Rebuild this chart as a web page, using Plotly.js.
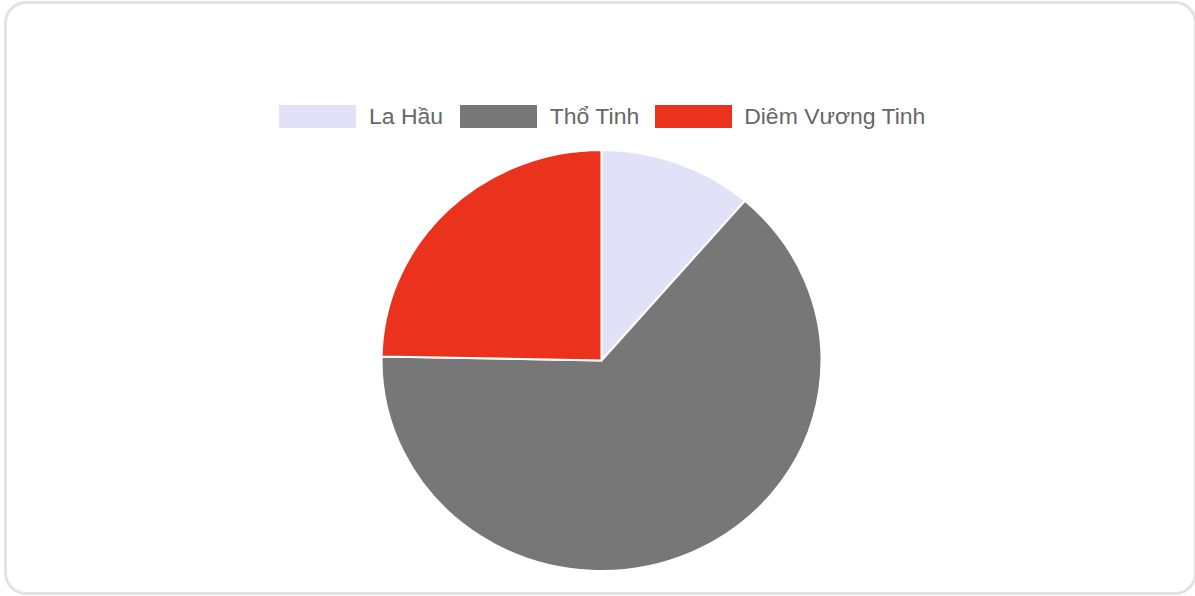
<!DOCTYPE html>
<html>
<head>
<meta charset="utf-8">
<script src="https://cdn.plot.ly/plotly-3.0.1.min.js"></script>
<style>
  html, body { margin:0; padding:0; background:#ffffff; width:1195px; height:596px; overflow:hidden; }
  #card { position:absolute; left:4px; top:1px; width:1193px; height:594px; border:3px solid #e2e2e2; border-radius:22px; box-sizing:border-box; background:#fff; }
  #chart { position:absolute; left:0; top:0; width:1195px; height:596px; transform:scaleX(1.045); transform-origin:601.5px 360px; }
</style>
</head>
<body>
<div id="card"></div>
<div id="chart"></div>
<script>
// Data
const labels = ["La Hầu", "Thổ Tinh", "Diêm Vương Tinh"];
const values = [11.3, 64.0, 24.7];
const colors = ["#e1e1f7", "#777777", "#ea321d"];

// Layout constants (pre-stretch pixel coordinates)
const W = 1195, H = 596;
const S = 1.045, CX = 601.5;
const pre = x => CX + (x - CX) / S;
const cy = 360.5, r = 210.5;
// legend item left edges (post-stretch, as seen)
const legendBoxX = [279, 460, 655];
const boxW = 77, boxTop = 105, boxBot = 128, textGap = 10;

const trace = {
  type: "pie",
  labels: labels,
  values: values,
  sort: false,
  direction: "clockwise",
  rotation: 0,
  marker: { colors: colors, line: { color: "#ffffff", width: 2 } },
  textinfo: "none",
  hoverinfo: "label+value",
  showlegend: false,
  domain: { x: [(CX - r) / W, (CX + r) / W], y: [(H - cy - r) / H, (H - cy + r) / H] }
};

const shapes = [], annotations = [];
labels.forEach((lab, i) => {
  const x0 = pre(legendBoxX[i]), x1 = pre(legendBoxX[i] + boxW);
  shapes.push({ type: "rect", xref: "paper", yref: "paper",
    x0: x0 / W, x1: x1 / W, y0: 1 - boxBot / H, y1: 1 - boxTop / H,
    fillcolor: colors[i], line: { width: 0 } });
  annotations.push({ xref: "paper", yref: "paper", x: (x1 + textGap) / W, y: 1 - (boxTop + boxBot) / 2 / H,
    xanchor: "left", yanchor: "middle", showarrow: false, text: lab,
    font: { family: "Liberation Sans, Arial, sans-serif", size: 22, color: "#666666" } });
});

const layout = {
  width: W, height: H,
  margin: { l: 0, r: 0, t: 0, b: 0 },
  paper_bgcolor: "rgba(0,0,0,0)",
  plot_bgcolor: "rgba(0,0,0,0)",
  showlegend: false,
  shapes: shapes,
  annotations: annotations
};

Plotly.newPlot("chart", [trace], layout, { displayModeBar: false, staticPlot: true });
</script>
</body>
</html>
